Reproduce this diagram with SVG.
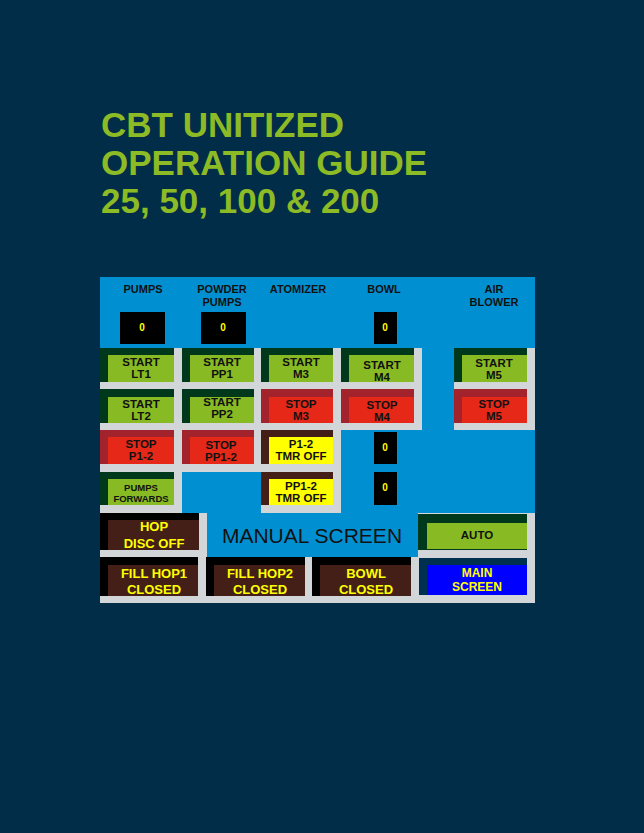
<svg xmlns="http://www.w3.org/2000/svg" width="644" height="833" viewBox="0 0 644 833">
<style>
text{font-family:"Liberation Sans",Arial,sans-serif;font-weight:bold;text-anchor:middle}
.t{fill:#8cbb26;font-size:35px;text-anchor:start}
.h{fill:#111;font-size:11px}
.g{fill:#d2d6d9}
.dg{fill:#00381c}.lg{fill:#88ba24}
.dr{fill:#a3232c}.rf{fill:#e52818}
.br{fill:#441f18}.ye{fill:#ffff00}
.bk{fill:#000}
.b{fill:#111;font-size:11.5px}
.y{fill:#ffff00;font-size:13px}
.d{fill:#ffff00;font-size:10px}
</style>
<rect width="644" height="833" fill="#022d48"/>
<g id="title">
<text class="t" x="101" y="137">CBT UNITIZED</text>
<text class="t" x="101" y="175">OPERATION GUIDE</text>
<text class="t" x="101" y="213">25, 50, 100 &amp; 200</text>
</g>
<g id="panel">
<rect x="100" y="277" width="435" height="326" fill="#0090d2"/>
<rect class="g" x="100" y="348" width="322" height="82"/>
<rect class="g" x="100" y="430" width="241" height="42"/>
<rect class="g" x="100" y="472" width="82" height="41"/>
<rect class="g" x="261" y="472" width="80" height="41"/>
<rect class="g" x="454" y="348" width="81" height="82"/>
<rect class="g" x="100" y="513" width="107" height="44"/>
<rect class="g" x="418" y="513" width="117" height="44"/>
<rect class="g" x="100" y="557" width="435" height="46"/>
</g>
<g id="labels">
<text class="h" x="143" y="293">PUMPS</text>
<text class="h" x="222" y="293">POWDER</text>
<text class="h" x="222" y="306">PUMPS</text>
<text class="h" x="298" y="293">ATOMIZER</text>
<text class="h" x="384" y="293">BOWL</text>
<text class="h" x="494" y="293">AIR</text>
<text class="h" x="494" y="306">BLOWER</text>
</g>
<g id="displays">
<rect class="bk" x="120" y="312" width="45" height="32"/><text class="d" x="142" y="331">0</text>
<rect class="bk" x="201" y="312" width="45" height="32"/><text class="d" x="223" y="331">0</text>
<rect class="bk" x="374" y="312" width="23" height="32"/><text class="d" x="385" y="331">0</text>
<rect class="bk" x="374" y="432" width="23" height="32"/><text class="d" x="385" y="451">0</text>
<rect class="bk" x="374" y="472" width="23" height="33"/><text class="d" x="385" y="491">0</text>
</g>
<g id="start-lt1"><rect class="dg" x="100" y="348" width="74" height="34"/><rect class="lg" x="108" y="355" width="66" height="27"/><text class="b" x="141" y="366">START</text><text class="b" x="141" y="378">LT1</text></g>
<g id="start-pp1"><rect class="dg" x="182" y="348" width="72" height="34"/><rect class="lg" x="190" y="355" width="64" height="27"/><text class="b" x="222" y="366">START</text><text class="b" x="222" y="378">PP1</text></g>
<g id="start-m3"><rect class="dg" x="261" y="348" width="72" height="34"/><rect class="lg" x="269" y="355" width="64" height="27"/><text class="b" x="301" y="366">START</text><text class="b" x="301" y="378">M3</text></g>
<g id="start-m4"><rect class="dg" x="341" y="348" width="73" height="34"/><rect class="lg" x="349" y="355" width="65" height="27"/><text class="b" x="382" y="369">START</text><text class="b" x="382" y="381">M4</text></g>
<g id="start-m5"><rect class="dg" x="454" y="348" width="73" height="34"/><rect class="lg" x="462" y="355" width="65" height="27"/><text class="b" x="494" y="367">START</text><text class="b" x="494" y="379">M5</text></g>
<g id="start-lt2"><rect class="dg" x="100" y="389" width="74" height="34"/><rect class="lg" x="108" y="397" width="66" height="26"/><text class="b" x="141" y="408">START</text><text class="b" x="141" y="420">LT2</text></g>
<g id="start-pp2"><rect class="dg" x="182" y="389" width="72" height="34"/><rect class="lg" x="190" y="397" width="64" height="26"/><text class="b" x="222" y="406">START</text><text class="b" x="222" y="418">PP2</text></g>
<g id="stop-m3"><rect class="dr" x="261" y="389" width="72" height="34"/><rect class="rf" x="269" y="397" width="64" height="26"/><text class="b" x="301" y="408">STOP</text><text class="b" x="301" y="420">M3</text></g>
<g id="stop-m4"><rect class="dr" x="341" y="389" width="73" height="34"/><rect class="rf" x="349" y="397" width="65" height="26"/><text class="b" x="382" y="409">STOP</text><text class="b" x="382" y="421">M4</text></g>
<g id="stop-m5"><rect class="dr" x="454" y="389" width="73" height="34"/><rect class="rf" x="462" y="397" width="65" height="26"/><text class="b" x="494" y="408">STOP</text><text class="b" x="494" y="420">M5</text></g>
<g id="stop-p1-2"><rect class="dr" x="100" y="430" width="74" height="34"/><rect class="rf" x="108" y="437" width="66" height="27"/><text class="b" x="141" y="448">STOP</text><text class="b" x="141" y="460">P1-2</text></g>
<g id="stop-pp1-2"><rect class="dr" x="182" y="430" width="72" height="34"/><rect class="rf" x="190" y="437" width="64" height="27"/><text class="b" x="221" y="449">STOP</text><text class="b" x="221" y="461">PP1-2</text></g>
<g id="p1-2-tmr"><rect class="br" x="261" y="430" width="72" height="34"/><rect class="ye" x="269" y="437" width="64" height="27"/><text class="b" x="301" y="448">P1-2</text><text class="b" x="301" y="460">TMR  OFF</text></g>
<g id="pumps-fwd"><rect class="dg" x="100" y="472" width="74" height="33"/><rect class="lg" x="108" y="479" width="66" height="26"/><text class="b" x="141" y="491" style="font-size:9.5px">PUMPS</text><text class="b" x="141" y="502" style="font-size:9.5px">FORWARDS</text></g>
<g id="pp1-2-tmr"><rect class="br" x="261" y="472" width="72" height="33"/><rect class="ye" x="269" y="479" width="64" height="26"/><text class="b" x="301" y="490">PP1-2</text><text class="b" x="301" y="502">TMR  OFF</text></g>
<g id="hop-disc"><rect class="bk" x="100" y="513" width="99" height="37"/><rect class="br" x="108" y="520" width="91" height="30"/><text class="y" x="154" y="531">HOP</text><text class="y" x="154" y="548">DISC  OFF</text></g>
<g id="manual"><text x="312" y="543" style="fill:#111;font-size:21px;font-weight:normal">MANUAL SCREEN</text></g>
<g id="auto"><rect class="dg" x="418" y="514" width="109" height="36"/><rect class="lg" x="427" y="523" width="100" height="26"/><text class="b" x="477" y="539">AUTO</text></g>
<g id="fill-hop1"><rect class="bk" x="100" y="557" width="98" height="39"/><rect class="br" x="108" y="565" width="90" height="31"/><text class="y" x="154" y="578">FILL  HOP1</text><text class="y" x="154" y="594">CLOSED</text></g>
<g id="fill-hop2"><rect class="bk" x="206" y="557" width="99" height="39"/><rect class="br" x="214" y="565" width="91" height="31"/><text class="y" x="260" y="578">FILL  HOP2</text><text class="y" x="260" y="594">CLOSED</text></g>
<g id="bowl-closed"><rect class="bk" x="312" y="557" width="99" height="39"/><rect class="br" x="320" y="565" width="91" height="31"/><text class="y" x="366" y="578">BOWL</text><text class="y" x="366" y="594">CLOSED</text></g>
<g id="main-screen"><rect fill="#00304f" x="419" y="558" width="108" height="37"/><rect fill="#0000ff" x="427" y="565" width="100" height="30"/><text class="y" x="477" y="577" style="font-size:12px">MAIN</text><text class="y" x="477" y="591" style="font-size:12px">SCREEN</text></g>
<g id="connectors"/>
</svg>
